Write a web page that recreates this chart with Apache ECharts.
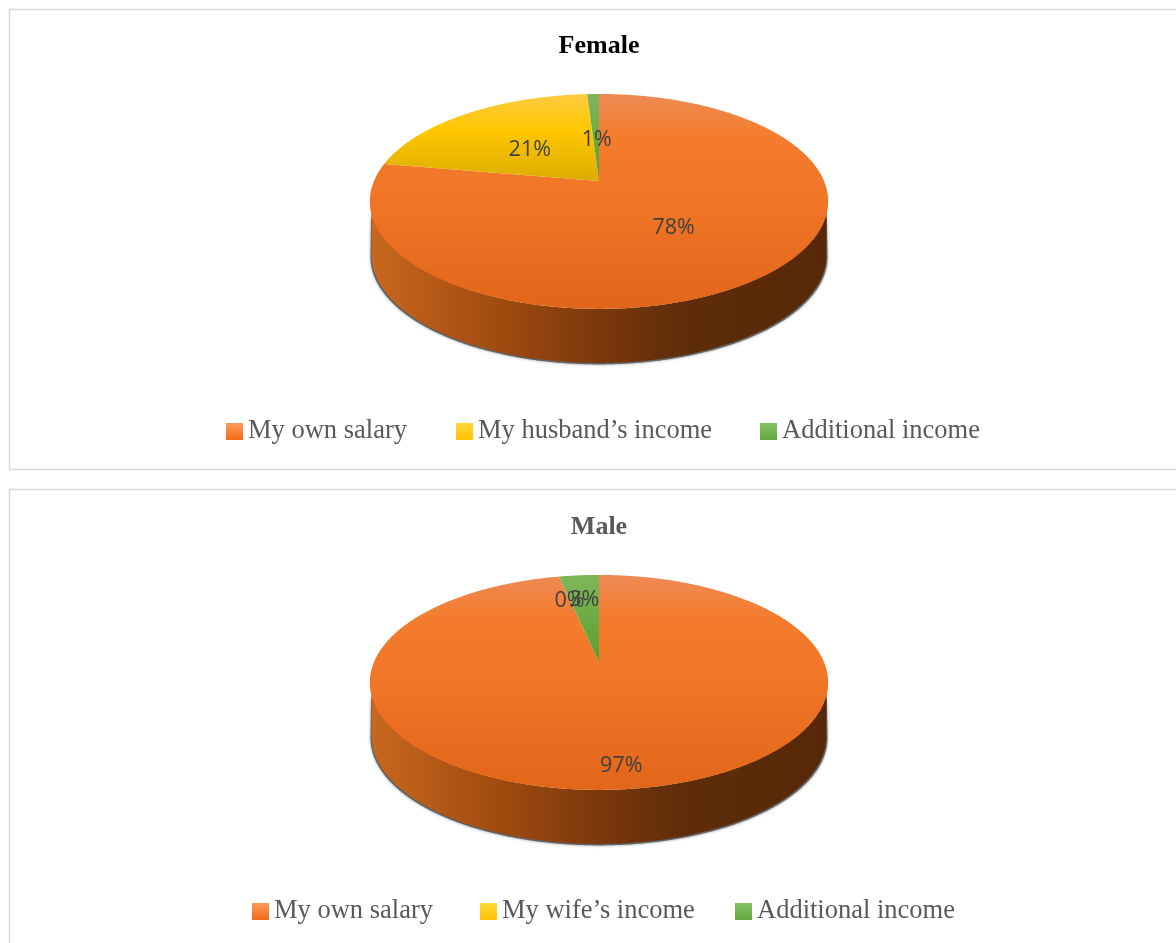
<!DOCTYPE html>
<html>
<head>
<meta charset="utf-8">
<style>html,body{margin:0;padding:0;background:#fff;overflow:hidden}#c{width:1176px;height:943px}</style>
<script src="https://cdn.jsdelivr.net/npm/echarts@6/dist/echarts.min.js"></script>
</head>
<body>
<div id="c"></div>
<script>
// ---- data ----
const femaleTitle = 'Female';
const femaleCategories = ['My own salary', 'My husband’s income', 'Additional income'];
const femaleValues = [77.7, 21.3, 1];
const maleTitle = 'Male';
const maleCategories = ['My own salary', 'My wife’s income', 'Additional income'];
const maleValues = [96.6, 0, 3.4];

// ---- styling and layout ----
const TOP = [
  {stops: [[0, '#ee8a55'], [0.2, '#f47c2d'], [0.5, '#f17526'], [1, '#e2661a']], icon: ['#fd9a5c', '#f26b18']},
  {stops: [[0, '#ffcb40'], [0.17, '#fec700'], [0.41, '#dcab00'], [1, '#b88f00']], icon: ['#ffd93a', '#ffc000']},
  {stops: [[0, '#80b55c'], [0.17, '#70ad47'], [0.41, '#5c9c2e'], [1, '#4a8424']], icon: ['#86c266', '#62a83c']}
];
const WALL = [[0, '#c9681f'], [0.25, '#a54e11'], [0.5, '#7c380b'], [0.68, '#5f2d0a'], [1, '#562807']];
const A = 225, B = 103.6, K = 0.19, DEPTH = 54, CX = 599;
const SIL_A = 101, SIL_B = 259;

const font = 'Liberation Serif';

function project(apexY, theta, r) {
  const t = theta * Math.PI / 180;
  const u = r * Math.sin(t), v = r * Math.cos(t);
  const w = 1 + K * v;
  return [CX + A * u / w, apexY - B * v / w];
}
function arc(apexY, a0, a1, dy, sx) {
  const pts = [], n = Math.max(2, Math.ceil(Math.abs(a1 - a0) / 0.5));
  for (let i = 0; i <= n; i++) {
    const p = project(apexY, a0 + (a1 - a0) * i / n, 1);
    pts.push([CX + (p[0] - CX) * sx, p[1] + dy]);
  }
  return pts;
}
function linear(x, y, x2, y2, stops) {
  return {type: 'linear', x, y, x2, y2, global: true,
    colorStops: stops.map(s => ({offset: s[0], color: s[1]}))};
}

function sliceSeries(cats, vals, i, apexY, labelR, labelDy, labelDx) {
  const total = vals.reduce((a, b) => a + b, 0);
  const before = vals.slice(0, i).reduce((a, b) => a + b, 0);
  return {
    type: 'custom',
    name: cats[i],
    coordinateSystem: 'none',
    silent: true,
    itemStyle: {color: TOP[i].icon[1]},
    data: [[vals[i], before, total]],
    renderItem(params, api) {
      const value = api.value(0), start = api.value(1) / api.value(2) * 360;
      const end = start + value / api.value(2) * 360;
      const children = [];
      if (value > 0) {
        const a0 = Math.max(start, SIL_A), a1 = Math.min(end, SIL_B);
        if (a1 > a0) {
          const fringe = arc(apexY, a0, a1, 8, 0.994).concat(arc(apexY, a1, a0, DEPTH + 1.5, 0.997));
          children.push({
            type: 'polygon', z2: 0, shape: {points: fringe},
            style: {fill: 'rgba(80,80,80,0.8)', shadowBlur: 3, shadowColor: 'rgba(60,60,60,0.7)'}
          });
          const pts = arc(apexY, a0, a1, 0, 0.992).concat(arc(apexY, a1, a0, DEPTH, 0.992));
          children.push({
            type: 'polygon', z2: 1, shape: {points: pts},
            style: {fill: linear(370, 0, 828, 0, WALL)}
          });
        }
        const face = [[CX, apexY]].concat(arc(apexY, start, end, 0, 1));
        children.push({
          type: 'polygon', z2: 2, shape: {points: face},
          style: {fill: linear(0, apexY - 87, 0, apexY + 128, TOP[i].stops)}
        });
      }
      const lp = project(apexY, start + (end - start) / 2, labelR[i]);
      children.push({
        type: 'text', z2: 10,
        style: {
          x: lp[0] + labelDx[i], y: lp[1] + labelDy[i], text: Math.round(value) + '%', align: 'center', verticalAlign: 'middle',
          fill: '#404040', font: '21.5px "Open Sans"'
        }
      });
      return {type: 'group', children};
    }
  };
}

function legendItem(cats, i, left, top) {
  return {
    left, top, itemWidth: 17, itemHeight: 17, icon: 'rect', selectedMode: false, padding: 0,
    textStyle: {fontFamily: font, fontSize: 26.5, color: '#595959'},
    data: [{
      name: cats[i],
      itemStyle: {color: {type: 'linear', x: 0, y: 0, x2: 0, y2: 1,
        colorStops: [{offset: 0, color: TOP[i].icon[0]}, {offset: 1, color: TOP[i].icon[1]}]}}
    }]
  };
}

const chart = echarts.init(document.getElementById('c'), null, {renderer: 'canvas'});
chart.setOption({
  backgroundColor: '#fff',
  animation: false,
  title: [
    {text: femaleTitle, left: 594, top: 28, textAlign: 'center',
     textStyle: {fontFamily: font, fontSize: 26, fontWeight: 'bold', color: '#000'}},
    {text: maleTitle, left: 594, top: 509, textAlign: 'center',
     textStyle: {fontFamily: font, fontSize: 26, fontWeight: 'bold', color: '#595959'}}
  ],
  legend: [
    legendItem(femaleCategories, 0, 226, 418),
    legendItem(femaleCategories, 1, 456, 418),
    legendItem(femaleCategories, 2, 760, 418),
    legendItem(maleCategories, 0, 252, 898),
    legendItem(maleCategories, 1, 480, 898),
    legendItem(maleCategories, 2, 735, 898)
  ],
  graphic: [
    {type: 'rect', z: -1, shape: {x: 9.5, y: 9.5, width: 1300, height: 460},
     style: {fill: 'none', stroke: '#d9d9d9', lineWidth: 1.5}},
    {type: 'rect', z: -1, shape: {x: 9.5, y: 489.5, width: 1300, height: 600},
     style: {fill: 'none', stroke: '#d9d9d9', lineWidth: 1.5}}
  ],
  series: [
    ...femaleValues.map((v, i) => sliceSeries(femaleCategories, femaleValues, i, 181, [0.5, 0.5, 0.5], [4, 5, 6], [-3.5, 1, 1])),
    ...maleValues.map((v, i) => sliceSeries(maleCategories, maleValues, i, 662, [0.85, 0.7, 0.7], [0, 2, 2], [-2, 0, 0]))
  ]
});
</script>
</body>
</html>
